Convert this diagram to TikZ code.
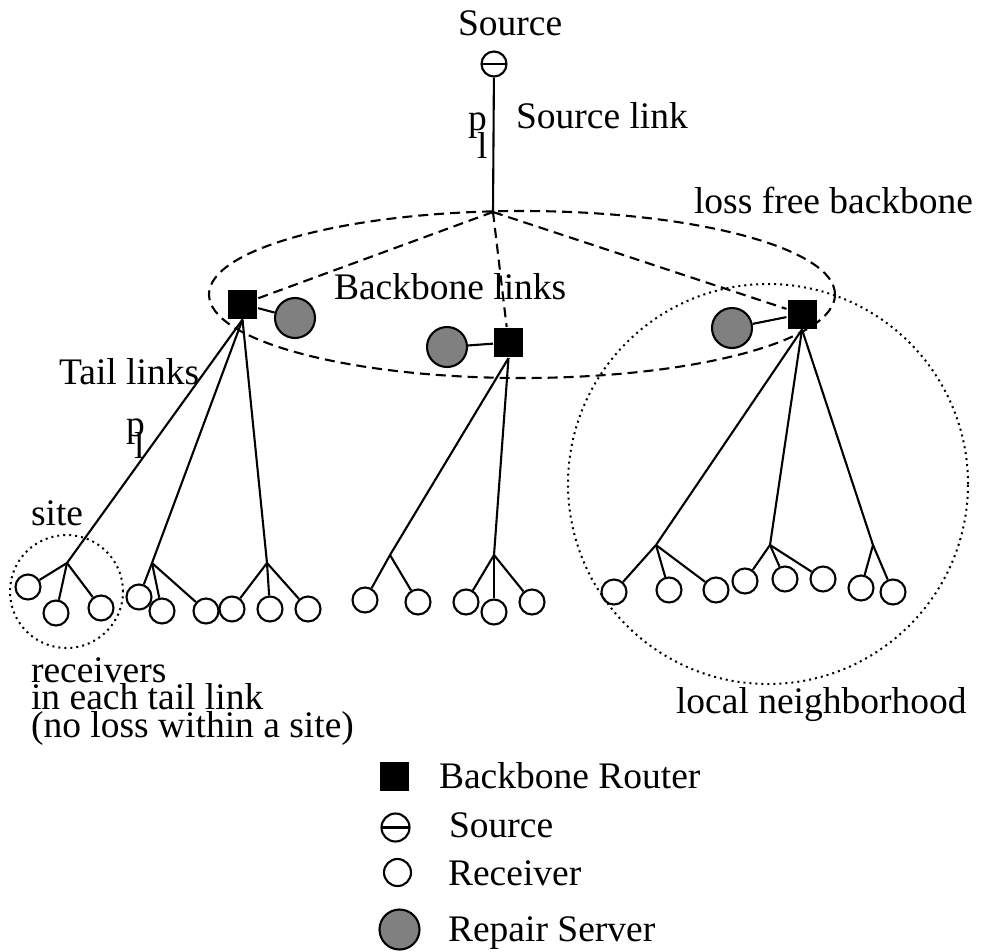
\documentclass[tikz,border=0pt]{standalone}
\usepackage{fontspec}
\setmainfont{Liberation Serif}
\usepackage{color}
\usepackage{tikz}

\begin{document}
\begin{tikzpicture}
[x=1pt,y=-1pt,line width=2.1pt,
 every node/.style={inner sep=0,font=\fontsize{37.5}{26}\selectfont},
 lbl/.style={anchor=base west},
 router/.style={rectangle,fill=black,minimum size=29pt},
 repair/.style={circle,draw,fill=gray,minimum size=40pt},
 rcv/.style={circle,draw,minimum size=25pt},
 src/.style={circle,draw,minimum size=25pt,
   path picture={\draw (path picture bounding box.west) -- (path picture bounding box.east);}},
 bb/.style={dash pattern=on 10pt off 6pt},
 area/.style={line width=2pt,dash pattern=on 2pt off 4pt}]
\useasboundingbox (0,0) rectangle (981,951);

% source and source link
\coordinate (c0) at (493,212);
\node[src] (src) at (494,64) {};
\node[lbl] (t1) at (457,35) {Source};
\draw (src) -- (c0);
\node[lbl] (p1) at (467,130) {p};
\node[lbl] (l1) at (476,158) {l};
\node[lbl] (t2) at (515,128) {Source link};

% loss free backbone
\draw[bb] (522,294.5) ellipse [x radius=313pt,y radius=83.5pt];
\node[lbl] (t3) at (693,213) {loss free backbone};
\node[lbl] (t4) at (333,299) {Backbone links};
\node[router] (r1) at (242.5,304) {};
\node[router] (r2) at (508.5,342.5) {};
\node[router] (r3) at (802,314) {};
\node[repair] (s1) at (295,318) {};
\node[repair] (s2) at (447,347) {};
\node[repair] (s3) at (732,328) {};
\foreach \r/\s in {r1/s1,r2/s2,r3/s3}
\draw (\r) -- (\s);
\foreach \r in {r1,r2,r3}
\draw[bb] (c0) -- (\r);

% tail links
\node[lbl] (t5) at (58,384) {Tail links};
\node[lbl] (p2) at (125,436) {p};
\node[lbl] (l2) at (133,458) {l};
\foreach \n/\x/\y in {h1/67/563,h2/152/563,h3/267/563,h4/390/555,h5/494/555,
  h6/656/545,h7/770/545,h8/873/545}
\coordinate (\n) at (\x,\y);
\foreach \from/\to in {r1/h1,r1/h2,r1/h3,r2/h4,r2/h5,r3/h6,r3/h7,r3/h8}
\draw (\from.south) -- (\to);

% receivers
\foreach \n/\x/\y/\h in {a1/28/587/h1,a2/56/613/h1,a3/101/608/h1,
  a4/139/597/h2,a5/162/611/h2,a6/206/611/h2,
  a7/232/609/h3,a8/270/609/h3,a9/308/609/h3,
  b1/365/600/h4,b2/418/602/h4,
  b3/466/602/h5,b4/494/612/h5,b5/532/602/h5,
  c1/614/592/h6,c2/669/590/h6,c3/716/590/h6,
  c4/745/581/h7,c5/785/579/h7,c6/823/579/h7,
  c7/861/588/h8,c8/893/592/h8}
{\node[rcv] (\n) at (\x,\y) {};
 \draw (\h) -- (\n);}

% site and neighborhood
\draw[area] (66.5,591.5) circle (56.5pt);
\node[lbl] (t6) at (30,525) {site};
\node[lbl,align=left] (t7) at (30,737) {receivers\\in each tail link\\(no loss within a site)};
\draw[area] (768,484) circle (200pt);
\node[lbl] (t8) at (675,713) {local neighborhood};

% legend
\node[router] (k1) at (394.5,776.5) {};
\node[lbl] (k1t) at (438,788) {Backbone Router};
\node[src,minimum size=28pt] (k2) at (395.5,827.5) {};
\node[lbl] (k2t) at (448,837) {Source};
\node[rcv,minimum size=27pt] (k3) at (397.5,872.5) {};
\node[lbl] (k3t) at (447,885) {Receiver};
\node[repair] (k4) at (399.5,929.5) {};
\node[lbl] (k4t) at (447,941) {Repair Server};

\end{tikzpicture}
\end{document}
